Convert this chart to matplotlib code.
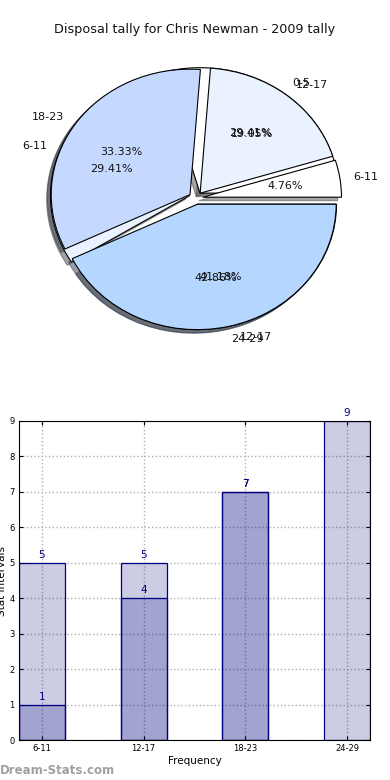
import numpy as np
import matplotlib
matplotlib.use("Agg")
import matplotlib.pyplot as plt

# pie 1 (drawn underneath) and pie 2 (drawn on top)
labels_a = ["0-5", "6-11", "12-17"]
values_a = [5, 5, 7]
labels_b = ["6-11", "12-17", "18-23", "24-29"]
values_b = [1, 4, 7, 9]

# bar chart
bar_ticks = ["6-11", "12-17", "18-23", "24-29"]

pie_colors = ["#ffffff", "#eaf1ff", "#c5d9ff", "#b5d6ff"]
navy = (0.0, 0.0, 0.5)


def main():
    fig = plt.figure(figsize=(3.9, 7.8), dpi=100)
    fig.text(0.5, 1 - 30 / 780, "Disposal tally for Chris Newman - 2009 tally",
             ha="center", va="center", fontsize=9.2, color="#111111")

    # --- pie ---
    ax1 = fig.add_axes([0.057, 0.545, 0.89, 0.402])
    for labs, vals in ((labels_a, values_a), (labels_b, values_b)):
        ax1.pie(vals, labels=labs, colors=pie_colors[:len(vals)],
                explode=[0.05] * len(vals), autopct="%.2f%%", shadow=True,
                startangle=0, labeldistance=1.1, pctdistance=0.6,
                wedgeprops={"edgecolor": "black", "linewidth": 0.8},
                textprops={"fontsize": 8, "color": "#111111"})
    ax1.set_aspect("auto")
    ax1.set_xlim(-1.25, 1.25)
    ax1.set_ylim(-1.25, 1.25)
    ax1.axis("off")

    # --- bars ---
    ax2 = fig.add_axes([19 / 390, 40 / 780, 351 / 390, 319 / 780])
    width = 0.45
    for vals in (values_b, values_a):
        x = np.arange(len(vals))
        ax2.bar(x, vals, width=width, align="edge",
                facecolor=(0.0, 0.0, 0.5, 0.2), edgecolor=navy, linewidth=0.9,
                zorder=2)
        for xi, v in zip(x, vals):
            ax2.text(xi + width / 2, v + 0.08, str(v), ha="center", va="bottom",
                     fontsize=7.5, color=navy, zorder=4)

    ax2.set_xlim(0, 3.45)
    ax2.set_ylim(0, 9)
    ax2.set_xticks(np.arange(len(bar_ticks)) + width / 2)
    ax2.set_xticklabels(bar_ticks)
    ax2.set_yticks(range(10))
    ax2.tick_params(axis="both", labelsize=6, direction="in", length=3,
                    top=True, right=True, pad=3)
    ax2.grid(True, linestyle=":", color="#b0b0b0", linewidth=1.0, zorder=0)
    ax2.set_axisbelow(True)
    ax2.set_xlabel("Frequency", fontsize=7.5, labelpad=2)
    ax2.set_ylabel("Stat Intervals", fontsize=7.5, labelpad=1)
    ax2.yaxis.set_label_coords(-0.035, 0.5)

    fig.text(0.0, 1 - 770 / 780, "Dream-Stats.com", ha="left", va="center",
             fontsize=8.5, color="#a0a0a0", fontweight="bold")

    fig.savefig("out.png", dpi=100)


if __name__ == "__main__":
    main()
